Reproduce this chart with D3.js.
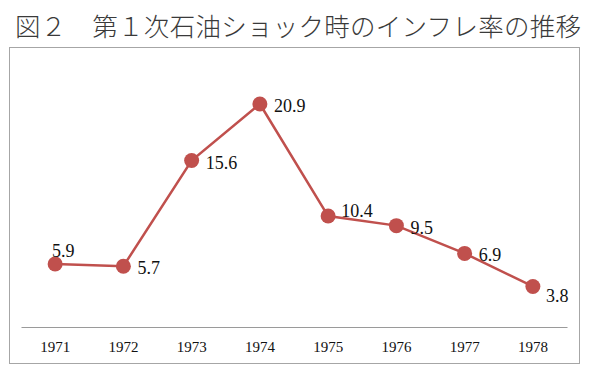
<!DOCTYPE html>
<html><head><meta charset="utf-8">
<script src="https://cdn.jsdelivr.net/npm/d3@7"></script>
<style>body{margin:0;background:#fff}
.serif{font-family:"Liberation Serif","Times New Roman",serif}</style>
</head><body><svg id="c" width="600" height="380"></svg>
<script>
const years = ["1971","1972","1973","1974","1975","1976","1977","1978"];
const inflation = [5.9, 5.7, 15.6, 20.9, 10.4, 9.5, 6.9, 3.8];
const labelPlacement = ["above","right","right","right","rightHigh","right","right","belowRight"];
const title = "図２　第１次石油ショック時のインフレ率の推移";

const svg = d3.select("#c");
const color = "#C0504D";
// title
svg.append("text").attr("x",15).attr("y",36)
  .style("font-family","'Noto Sans CJK JP'").style("font-weight",300)
  .attr("font-size",25.5).attr("fill","#3a3a3a")
  .attr("textLength",566).attr("lengthAdjust","spacing")
  .text(title);
// frame
svg.append("rect").attr("x",9.5).attr("y",47.5).attr("width",570).attr("height",316)
  .attr("fill","none").attr("stroke","#a6a6a6").attr("stroke-width",1);

const x = d3.scaleBand().domain(years).range([21,567]);
const y = d3.scaleLinear().domain([0,25]).range([327, 327-25*10.67]);

const xAxis = svg.append("g").attr("transform","translate(0,327)")
  .call(d3.axisBottom(x).tickSize(0).tickPadding(14));
xAxis.attr("font-family",null).attr("font-size",null);
xAxis.select(".domain").attr("stroke","#9a9a9a").attr("stroke-width",1.2);
xAxis.selectAll("text").attr("class","serif")
  .style("font-size","15px").attr("fill","#111");

const data = years.map((yr,i)=>({yr, v:inflation[i], p:labelPlacement[i]}));
const cx = d => x(d.yr)+x.bandwidth()/2;
svg.append("path").datum(data)
  .attr("d", d3.line().x(cx).y(d=>y(d.v)))
  .attr("fill","none").attr("stroke",color).attr("stroke-width",2.5);
svg.selectAll("circle.pt").data(data).join("circle")
  .attr("cx",cx).attr("cy",d=>y(d.v)).attr("r",7.5).attr("fill",color);
const off = {above:[8,-7,"middle"], right:[14,8,"start"], rightHigh:[13,1,"start"], belowRight:[13,16,"start"]};
svg.selectAll("text.lbl").data(data).join("text")
  .attr("class","serif")
  .attr("x",d=>cx(d)+off[d.p][0]).attr("y",d=>y(d.v)+off[d.p][1])
  .attr("text-anchor",d=>off[d.p][2])
  .style("font-size","18px").attr("fill","#111")
  .text(d=>d.v.toFixed(1));
</script></body></html>
